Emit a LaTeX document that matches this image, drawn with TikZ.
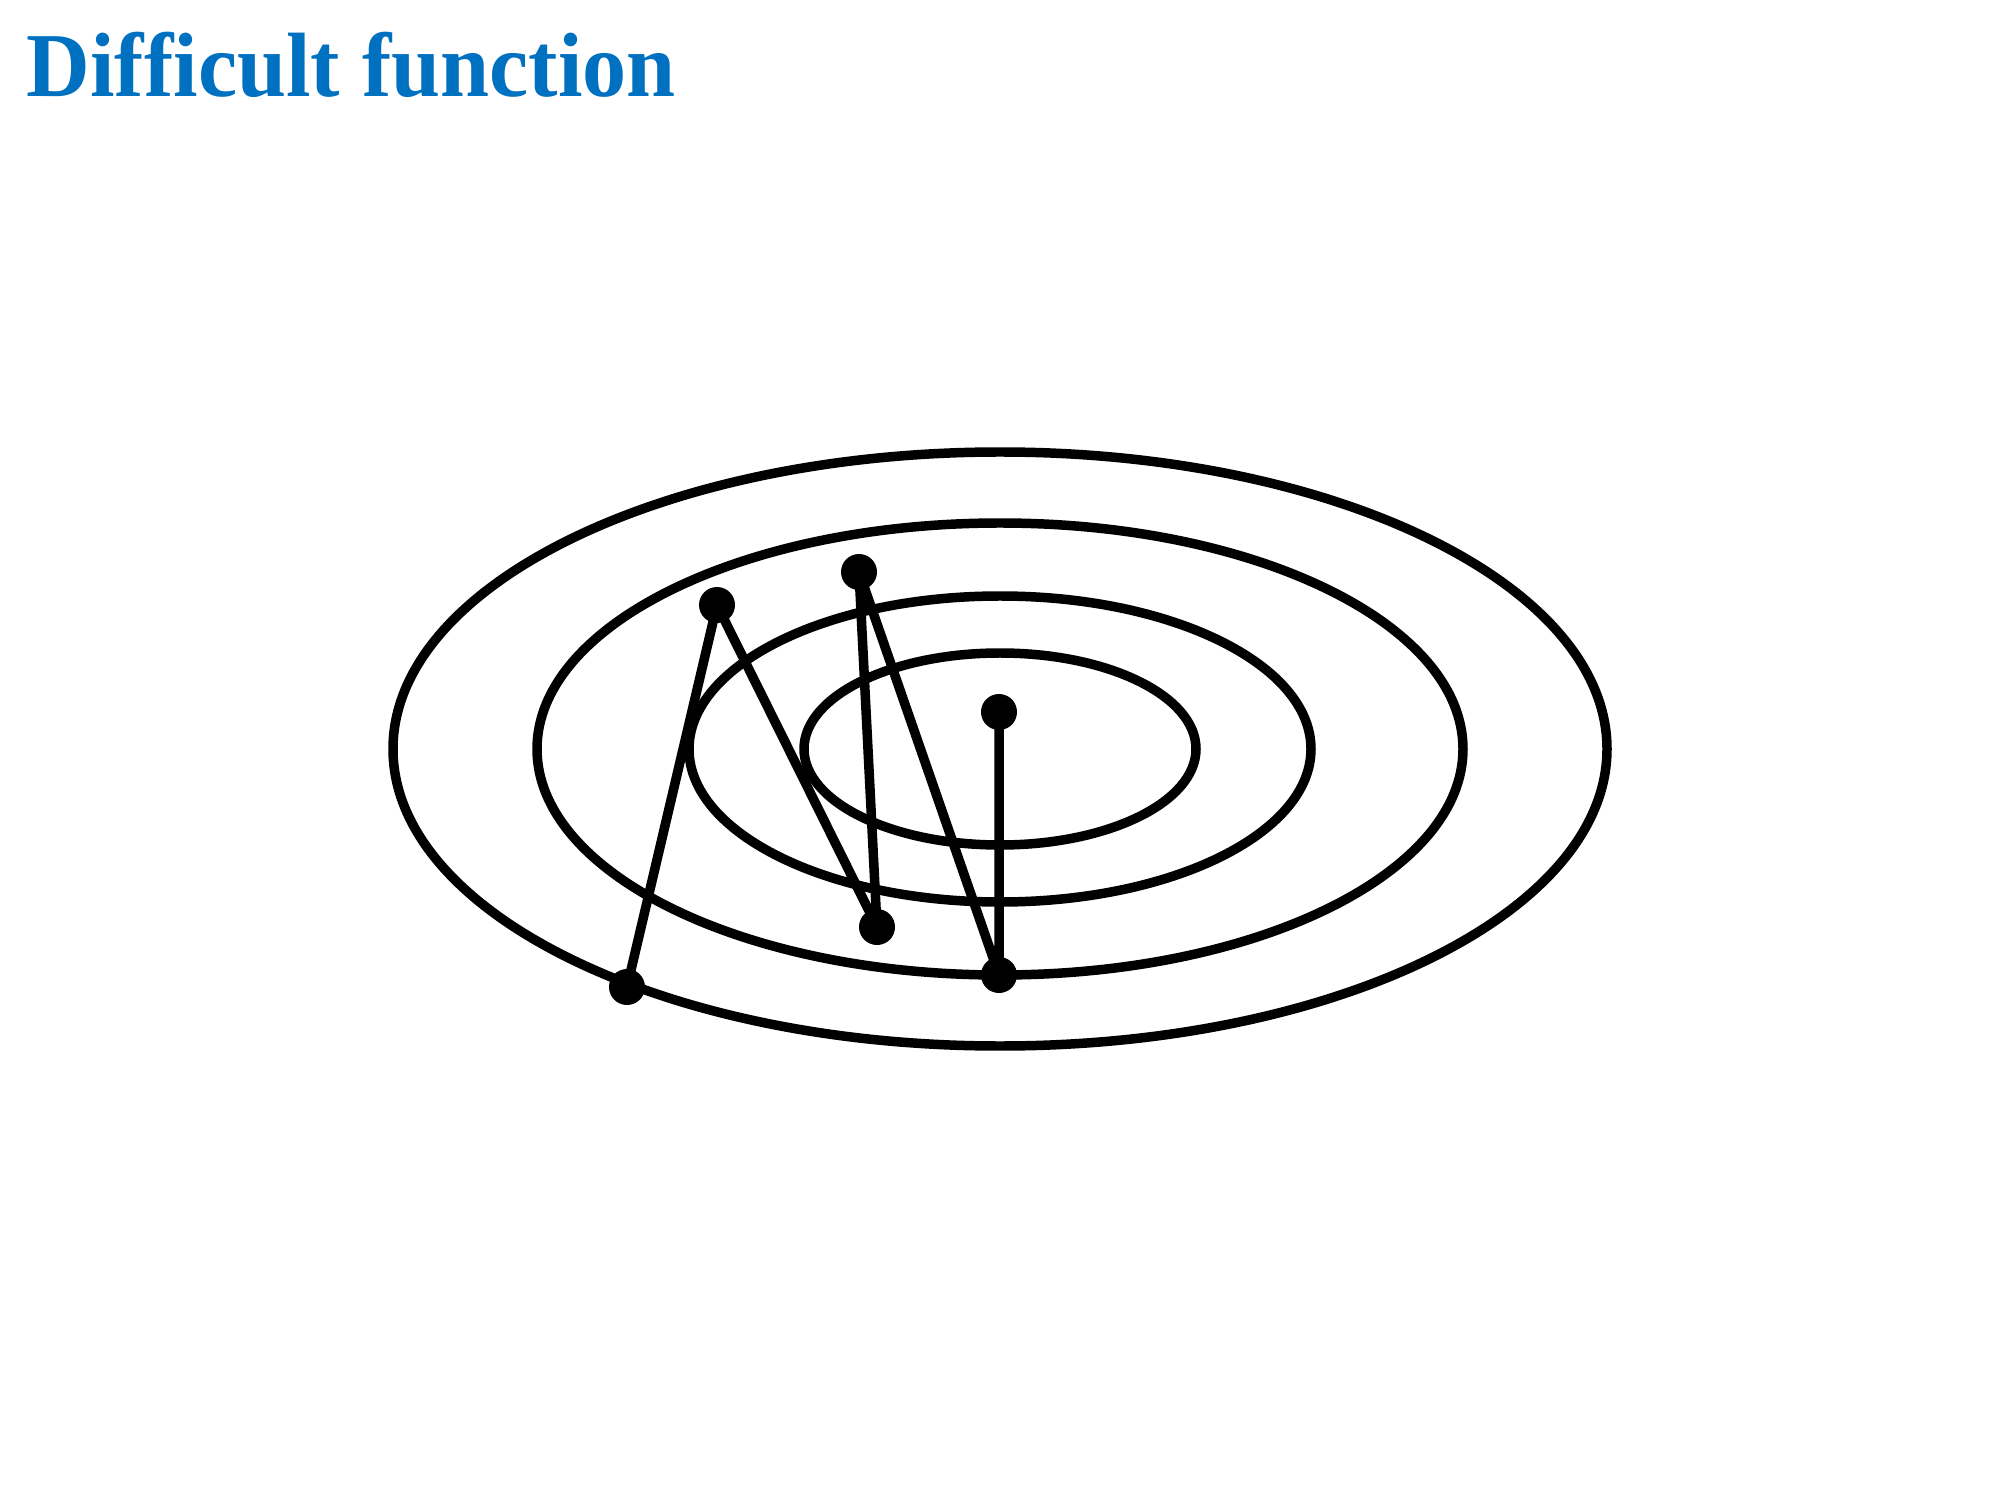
\documentclass[tikz,border=0pt]{standalone}
\usepackage{fontspec}
\setmainfont{Liberation Serif}
\usepackage{xcolor}
\definecolor{titleblue}{RGB}{0,112,192}

\begin{document}
\begin{tikzpicture}[line width=2.7pt,
  dot/.style={circle,fill=black,inner sep=0pt,minimum size=0.36cm},
  title/.style={anchor=base west,text=titleblue,font=\fontsize{26}{30}\selectfont\bfseries,inner sep=0pt}]
\useasboundingbox (0,0) rectangle (20,15);
\node[title] (head) at (0.22,14.03) {\scalebox{0.965}[1]{Difficult function}};
% level curves
\draw (10,7.51) ellipse (6.07 and 2.97);
\draw (10,7.51) ellipse (4.63 and 2.26);
\draw (10,7.51) ellipse (3.11 and 1.53);
\draw (10,7.51) ellipse (1.96 and 0.96);
% steps
\node[dot] (p1) at (6.27,5.13) {};
\node[dot] (p2) at (7.17,8.95) {};
\node[dot] (p3) at (8.77,5.73) {};
\node[dot] (p4) at (8.59,9.28) {};
\node[dot] (p5) at (9.99,5.25) {};
\node[dot] (p6) at (9.99,7.88) {};
\draw[line join=round] (p1.center)--(p2.center)--(p3.center)--(p4.center)--(p5.center)--(p6.center);
\end{tikzpicture}
\end{document}
